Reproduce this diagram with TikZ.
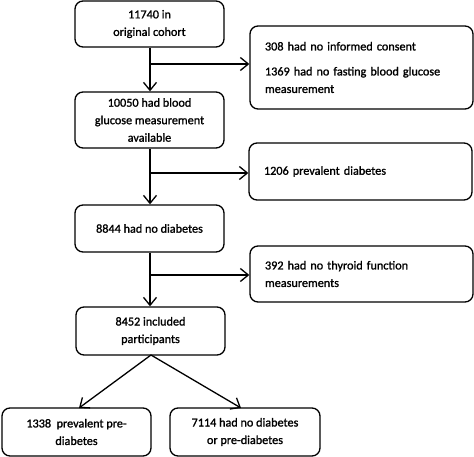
\documentclass[tikz,border=0pt]{standalone}
\usepackage{fontspec}
\setmainfont{Carlito}[FakeBold=1.3]
\usetikzlibrary{arrows.meta}
\begin{document}
\begin{tikzpicture}[x=1pt,y=-1pt,
  box/.style={draw,line width=1.3pt,rounded corners=8pt,align=center,inner sep=0pt,
    font=\fontsize{12.2}{17.5}\selectfont},
  rbox/.style={box,align=left,text width=193pt},
  arr/.style={line width=1.3pt,-{Straight Barb[length=8pt,width=13pt,line width=1.3pt]}},
  ln/.style={line width=1.3pt}]
\useasboundingbox (0,0) rectangle (474,457);
\node[box,minimum width=149pt,minimum height=46pt] (b1) at (149.5,24) {11740 in\\original cohort};
\node[rbox,minimum width=223pt,minimum height=83pt] (r1) at (361.5,67.5) {308 had no informed consent\\[7.5pt]1369 had no fasting blood glucose\\measurement};
\node[box,minimum width=149pt,minimum height=56pt] (b2) at (149.5,120) {10050 had blood\\glucose measurement\\available};
\node[rbox,minimum width=223pt,minimum height=57pt] (r2) at (360.5,171.5) {1206 prevalent diabetes\\[4pt]};
\node[box,minimum width=149pt,minimum height=47pt] (b3) at (149.5,228.5) {8844 had no diabetes};
\node[rbox,minimum width=223pt,minimum height=56pt] (r3) at (361.5,274) {392 had no thyroid function\\measurements\\[4pt]};
\node[box,minimum width=149pt,minimum height=48pt] (b4) at (150.5,331) {8452 included\\participants};
\node[box,minimum width=149pt,minimum height=48pt] (b5) at (76.5,432) {1338~ prevalent pre-\\diabetes};
\node[box,minimum width=150pt,minimum height=48pt] (b6) at (245,432) {7114 had no diabetes\\or pre-diabetes};
\coordinate (c1) at (150,64);
\coordinate (c2) at (150,173);
\coordinate (c3) at (150,275);
\draw[arr] (b1.south -| c1) -- (b2.north -| c1);
\draw[arr] (b2.south -| c1) -- (b3.north -| c1);
\draw[arr] (b3.south -| c1) -- (b4.north -| c1);
\draw[arr] (c1) -- (r1.west |- c1);
\draw[arr] (c2) -- (r2.west |- c2);
\draw[arr] (c3) -- (r3.west |- c3);
\coordinate (d) at (151,355);
\draw[arr] (d) -- (79,408);
\draw[arr] (d) -- (241,408);
\end{tikzpicture}
\end{document}
